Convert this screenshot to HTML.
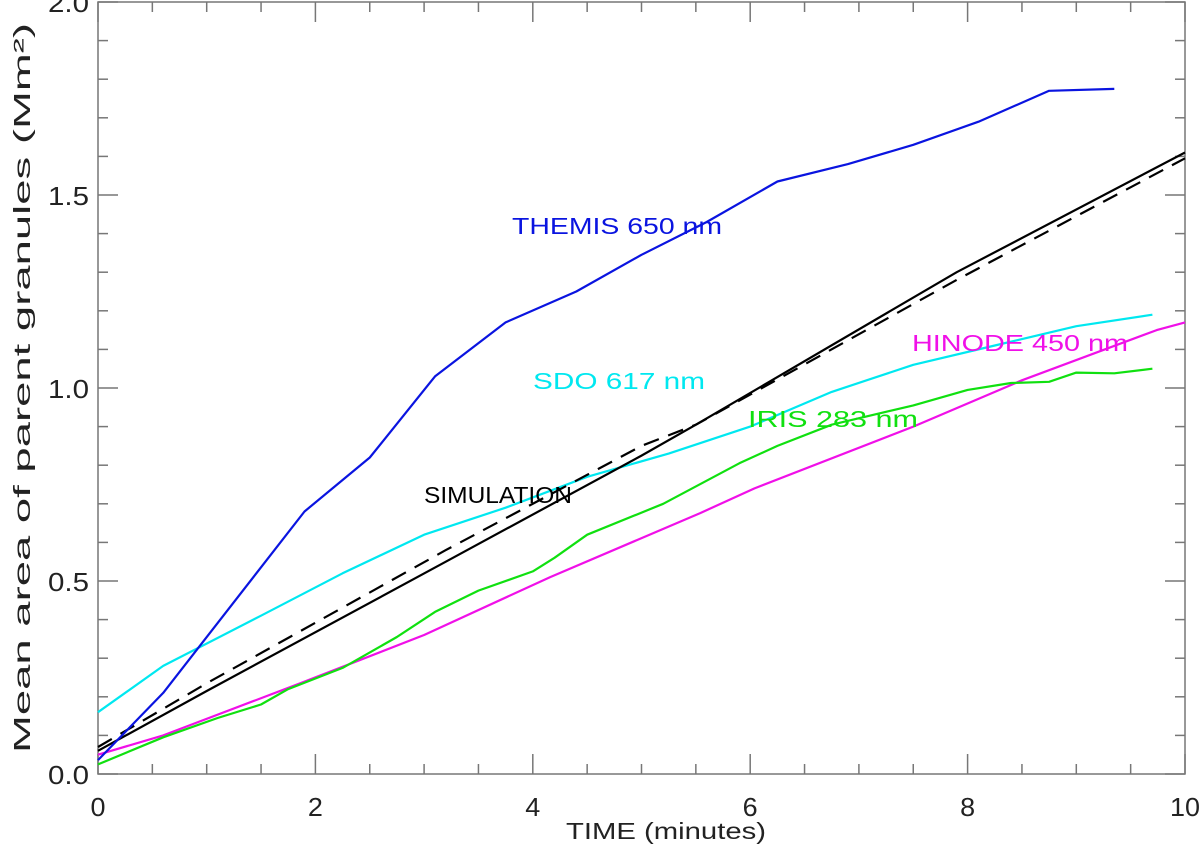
<!DOCTYPE html>
<html><head><meta charset="utf-8"><style>
html,body{margin:0;padding:0;background:#fff;}
svg{display:block;font-family:"Liberation Sans","DejaVu Sans",sans-serif;}
</style></head><body>
<svg id="chart" width="1200" height="855" viewBox="0 0 1200 855" xmlns="http://www.w3.org/2000/svg">
<g id="axes"></g>
<g id="series"></g>
<text x="566" y="839" font-size="23" textLength="200" lengthAdjust="spacingAndGlyphs" fill="#222">TIME (minutes)</text>
<text transform="translate(30,388) rotate(-90)" font-size="23" text-anchor="middle" textLength="730" lengthAdjust="spacingAndGlyphs" fill="#222">Mean area of parent granules (Mm²)</text>
<text x="512" y="234" font-size="23" textLength="210" lengthAdjust="spacingAndGlyphs" fill="#0a14e0">THEMIS 650 nm</text>
<text x="533" y="389" font-size="23" textLength="172" lengthAdjust="spacingAndGlyphs" fill="#00e8f0">SDO 617 nm</text>
<text x="424" y="503" font-size="23" textLength="148" lengthAdjust="spacingAndGlyphs" fill="#000">SIMULATION</text>
<text x="748" y="427" font-size="23" textLength="170" lengthAdjust="spacingAndGlyphs" fill="#10e010">IRIS 283 nm</text>
<text x="912" y="351" font-size="23" textLength="216" lengthAdjust="spacingAndGlyphs" fill="#f010e8">HINODE 450 nm</text>
</svg>
<script>
const xTicks = [0, 2, 4, 6, 8, 10];
const yTicks = [0.0, 0.5, 1.0, 1.5, 2.0];
const yTickLabels = ["0.0", "0.5", "1.0", "1.5", "2.0"];
const themisT = [0, 0.6, 1.9, 2.5, 3.1, 3.75, 4.4, 5, 5.6, 6.25, 6.9, 7.5, 8.1, 8.75, 9.35];
const themisV = [0.036, 0.21, 0.68, 0.82, 1.03, 1.17, 1.25, 1.345, 1.43, 1.535, 1.58, 1.63, 1.69, 1.77, 1.775];
const sdoT = [0, 0.6, 1.5, 2.25, 3, 3.75, 4.5, 5.25, 6, 6.75, 7.5, 8.25, 9, 9.7];
const sdoV = [0.16, 0.28, 0.41, 0.52, 0.62, 0.69, 0.77, 0.83, 0.9, 0.99, 1.06, 1.11, 1.16, 1.19];
const simT = [0, 1, 3.2, 5, 5.5, 7.9, 10];
const simV = [0.06, 0.215, 0.55, 0.825, 0.905, 1.30, 1.61];
const simDashT = [0, 1, 3.2, 5, 5.5, 7.9, 10];
const simDashV = [0.07, 0.235, 0.58, 0.85, 0.905, 1.28, 1.595];
const irisT = [0, 0.6, 1.1, 1.5, 1.75, 2.25, 2.75, 3.1, 3.5, 4, 4.2, 4.5, 5.2, 5.9, 6.25, 6.75, 7.5, 8, 8.4, 8.75, 9, 9.35, 9.7];
const irisV = [0.025, 0.095, 0.145, 0.18, 0.22, 0.275, 0.355, 0.42, 0.475, 0.525, 0.56, 0.62, 0.70, 0.805, 0.85, 0.905, 0.955, 0.995, 1.013, 1.016, 1.04, 1.038, 1.05];
const hinodeT = [0, 0.6, 1.86, 3, 4.16, 5.54, 6.04, 7.5, 8.5, 9.74, 10];
const hinodeV = [0.05, 0.1, 0.235, 0.36, 0.51, 0.676, 0.74, 0.9, 1.02, 1.15, 1.17];

const X0 = 98, X1 = 1185, Y0 = 774, Y1 = 2;
function sx(t){ return X0 + (t / 10) * (X1 - X0); }
function sy(v){ return Y0 - (v / 2) * (Y0 - Y1); }
const NS = "http://www.w3.org/2000/svg";
const axes = document.getElementById('axes');
const series = document.getElementById('series');
function mk(tag, attrs, parent){
  const e = document.createElementNS(NS, tag);
  for (const k in attrs) e.setAttribute(k, attrs[k]);
  parent.appendChild(e);
  return e;
}
const frame = mk('rect', {x:X0, y:Y1, width:X1-X0, height:Y0-Y1, fill:'none', stroke:'#777', 'stroke-width':1.5}, axes);


for (let i = 0; i <= 20; i++) {
  const t = i * 0.5;
  const major = (i % 4 === 0);
  const len = major ? 20 : 10;
  const tb = mk('line', {x1:sx(t), x2:sx(t), y1:Y0, y2:Y0-len, stroke:'#777', 'stroke-width':1.5}, axes);
  
  
  const tt = mk('line', {x1:sx(t), x2:sx(t), y1:Y1, y2:Y1+len, stroke:'#777', 'stroke-width':1.5}, axes);
  
  
}
xTicks.forEach(t => {
  const s = String(t);
  const w = s.length * 15;
  const l = mk('text', {x:sx(t) - w/2, y:Y0+42, 'font-size':26, textLength:w, lengthAdjust:'spacingAndGlyphs', fill:'#222'}, axes);
  
  
  l.textContent = s;
});
for (let i = 0; i <= 20; i++) {
  const v = i * 0.1;
  const major = (i % 5 === 0);
  const len = major ? 20 : 10;
  const tl = mk('line', {x1:X0, x2:X0+len, y1:sy(v), y2:sy(v), stroke:'#777', 'stroke-width':1.5}, axes);
  
  
  const tr = mk('line', {x1:X1, x2:X1-len, y1:sy(v), y2:sy(v), stroke:'#777', 'stroke-width':1.5}, axes);
  
  
}
yTicks.forEach((v, i) => {
  const l = mk('text', {x:48, y:sy(v)+10, 'font-size':26, textLength:41, lengthAdjust:'spacingAndGlyphs', fill:'#222'}, axes);
  
  
  l.textContent = yTickLabels[i];
});
function line(ts, vs, color, name, dash){
  const d = ts.map((t, i) => (i ? 'L' : 'M') + sx(t).toFixed(1) + ' ' + sy(vs[i]).toFixed(1)).join(' ');
  const p = mk('path', {d:d, fill:'none', stroke:color, 'stroke-width':2.2, 'stroke-linejoin':'round'}, series);
  if (dash) p.setAttribute('stroke-dasharray', dash);
  
  
}
line(hinodeT, hinodeV, '#f010e8', 'hinode-line');
line(irisT, irisV, '#10e010', 'iris-line');
line(sdoT, sdoV, '#00e8f0', 'sdo-line');
line(simDashT, simDashV, '#000', 'simulation-dashed-line', '16 10');
line(simT, simV, '#000', 'simulation-line');
line(themisT, themisV, '#0a14e0', 'themis-line');
</script>
</body></html>
